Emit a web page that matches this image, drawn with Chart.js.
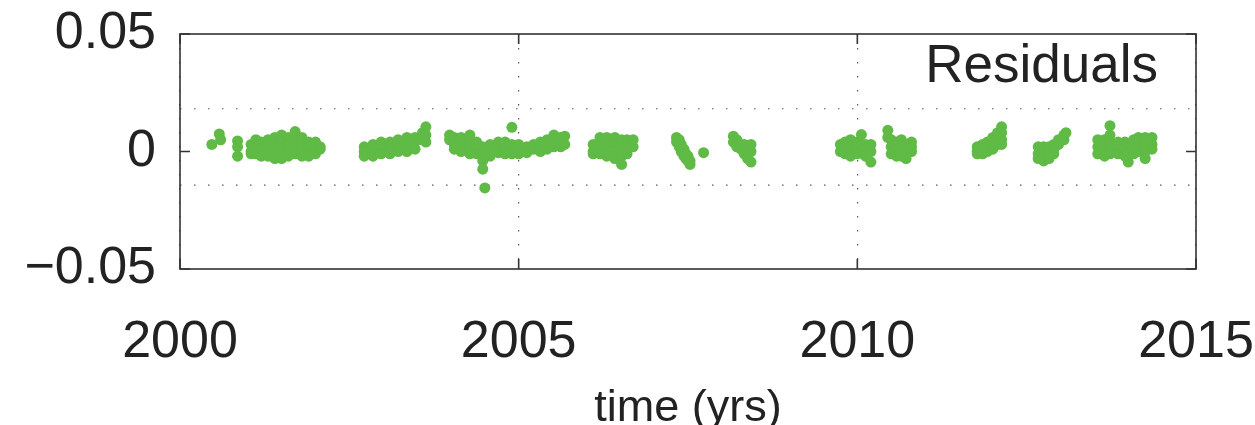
<!DOCTYPE html>
<html lang="en">
<head>
    <meta charset="UTF-8">
    <title>Residuals</title>
    <script src="https://cdn.jsdelivr.net/npm/chart.js"></script>
    <style>
        html, body { margin: 0; padding: 0; background: #fff; }
        .chart-container { position: relative; width: 1255px; height: 425px; }
    </style>
</head>
<body>
    <div class="chart-container">
        <canvas id="residualsChart"></canvas>
    </div>

    <script>
    // Data
    const seriesName = 'Residuals';
    const xTitle = 'time (yrs)';
    const xTickValues = [2000, 2005, 2010, 2015];
    const yTickValues = [-0.05, 0, 0.05];
    const yTickLabels = ['\u22120.05', '0', '0.05'];
    const upperBand = 0.0182;
    const lowerBand = -0.0143;

    // sample times (yrs) and the residuals seen at each of them
    const colTimes = [
        2000.47, 2000.58, 2000.60, 2000.85,
        2001.05, 2001.12, 2001.20, 2001.30, 2001.40, 2001.50, 2001.60, 2001.70, 2001.80, 2001.90, 2002.00, 2002.07,
        2002.72, 2002.85, 2002.97, 2003.10, 2003.22, 2003.35, 2003.47, 2003.58, 2003.63,
        2003.98, 2004.05, 2004.15, 2004.28, 2004.38, 2004.47, 2004.50, 2004.58, 2004.70, 2004.80, 2004.90,
        2005.00, 2005.12, 2005.22, 2005.32, 2005.42, 2005.52, 2005.62, 2005.68,
        2006.10, 2006.20, 2006.30, 2006.42, 2006.52, 2006.60, 2006.69,
        2007.33, 2007.37, 2007.40, 2007.44, 2007.47, 2007.50, 2007.53, 2007.73,
        2008.17, 2008.22, 2008.28, 2008.33, 2008.38, 2008.43,
        2009.75, 2009.82, 2009.90, 2010.00, 2010.06, 2010.12, 2010.20,
        2010.45, 2010.50, 2010.58, 2010.65, 2010.72, 2010.80,
        2011.77, 2011.85, 2011.92, 2012.00, 2012.07, 2012.13,
        2012.67, 2012.75, 2012.83, 2012.90, 2012.97, 2013.05, 2013.08,
        2013.55, 2013.65, 2013.73, 2013.85, 2013.95, 2014.00, 2014.08, 2014.15, 2014.25, 2014.35
    ];
    const colValues = [
        [0.003], [0.0075], [0.005], [0.0045, 0.002, -0.002],
        [0.003, 0.0, -0.001], [0.005, 0.002, -0.001], [0.004, 0.001, -0.002], [0.005, 0.002, -0.001, -0.002],
        [0.006, 0.003, 0.0, -0.003], [0.007, 0.004, 0.001, -0.003], [0.006, 0.003, 0.0, -0.002],
        [0.0085, 0.005, 0.002, -0.001], [0.006, 0.003, 0.0, -0.002], [0.004, 0.002, -0.002],
        [0.004, 0.001, -0.001], [0.002, 0.001],
        [0.002, 0.0, -0.002], [0.003, 0.0, -0.002], [0.004, 0.001, -0.001], [0.004, 0.002, -0.001],
        [0.005, 0.002, 0.0], [0.006, 0.003, 0.0], [0.006, 0.004, 0.001], [0.008, 0.005], [0.0105, 0.007, 0.004],
        [0.007, 0.005], [0.006, 0.003, 0.001], [0.006, 0.003, 0.0], [0.007, 0.004, 0.001, -0.001],
        [0.004, 0.001, -0.001], [0.002, -0.001, -0.004, -0.0075], [-0.0155], [0.003, 0.0, -0.002],
        [0.004, 0.002, -0.0005], [0.004, 0.001, -0.001], [0.0103, 0.003, 0.0, -0.001],
        [0.003, 0.001, -0.001], [0.002, 0.0, -0.0005], [0.003, 0.001], [0.004, 0.002, 0.0],
        [0.005, 0.003, 0.001], [0.007, 0.004, 0.002], [0.006, 0.004, 0.002], [0.0065, 0.003],
        [0.003, 0.0, -0.001], [0.006, 0.003, 0.0, -0.001], [0.006, 0.003, 0.0, -0.002],
        [0.006, 0.003, 0.0, -0.003], [0.005, 0.002, -0.002, -0.0055], [0.005, 0.002, -0.001], [0.005, 0.002],
        [0.006, 0.004], [0.005, 0.002], [0.003, 0.0], [0.001, -0.002], [-0.001, -0.003],
        [-0.002, -0.004], [-0.004, -0.0055], [-0.0005],
        [0.0065, 0.004], [0.005, 0.002], [0.003, 0.001], [0.003, 0.0, -0.001],
        [0.002, -0.001, -0.003], [0.003, 0.0, -0.0045],
        [0.003, 0.0], [0.004, 0.001, -0.001], [0.005, 0.002, -0.002], [0.004, 0.001, -0.001],
        [0.0072, 0.003, 0.0], [0.003, 0.001, -0.002], [0.003, 0.0, -0.0045],
        [0.009, 0.006], [0.005, 0.002, -0.001], [0.004, 0.001, -0.002], [0.005, 0.002, -0.002],
        [0.003, 0.0, -0.003], [0.004, 0.002, 0.0],
        [0.002, 0.0, -0.001], [0.003, 0.001, -0.001], [0.004, 0.002, 0.0], [0.006, 0.003, 0.001],
        [0.008, 0.006, 0.003], [0.0105, 0.008, 0.005, 0.003],
        [0.002, -0.001, -0.003], [0.002, -0.001, -0.004], [0.002, 0.0, -0.003], [0.003, 0.001, -0.001],
        [0.005, 0.003], [0.007, 0.005], [0.008],
        [0.005, 0.002, -0.001], [0.005, 0.002, -0.002], [0.011, 0.007, 0.004, 0.001, -0.001],
        [0.004, 0.001, -0.001], [0.004, 0.001, -0.002], [0.003, 0.0, -0.0045], [0.005, 0.002, -0.001],
        [0.006, 0.003, 0.0], [0.006, 0.003, 0.0, -0.003], [0.006, 0.003, 0.001]
    ];

    const points = [];
    colTimes.forEach((t, i) => colValues[i].forEach(v => points.push({ x: t, y: v })));

    const fontFamily = "'Liberation Sans', Arial, Helvetica, sans-serif";
    const textColor = '#222';
    const dotted = [1.5, 12.5];

    // box, inward ticks and the series label
    const framePlugin = {
        id: 'frame',
        afterDatasetsDraw(chart) {
            const { ctx, chartArea: a, scales: { x, y } } = chart;
            ctx.save();
            ctx.strokeStyle = '#333';
            ctx.lineWidth = 1.6;
            ctx.strokeRect(a.left, a.top, a.right - a.left, a.bottom - a.top);
            ctx.beginPath();
            yTickValues.forEach(v => {
                const py = y.getPixelForValue(v);
                ctx.moveTo(a.left, py); ctx.lineTo(a.left + 10, py);
                ctx.moveTo(a.right, py); ctx.lineTo(a.right - 10, py);
            });
            xTickValues.forEach(v => {
                const px = x.getPixelForValue(v);
                ctx.moveTo(px, a.bottom); ctx.lineTo(px, a.bottom - 10);
                ctx.moveTo(px, a.top); ctx.lineTo(px, a.top + 10);
            });
            ctx.stroke();
            ctx.fillStyle = textColor;
            ctx.font = `53px ${fontFamily}`;
            ctx.textAlign = 'right';
            ctx.textBaseline = 'alphabetic';
            ctx.fillText(seriesName, a.right - 38, a.top + 48);
            ctx.restore();
        }
    };

    const bandLine = value => ({
        type: 'line',
        data: [{ x: xTickValues[0], y: value }, { x: xTickValues[xTickValues.length - 1], y: value }],
        borderColor: '#555',
        borderWidth: 1.2,
        borderDash: dotted,
        pointRadius: 0,
        fill: false,
        order: 2
    });

    new Chart(document.getElementById('residualsChart'), {
        type: 'scatter',
        data: {
            datasets: [
                {
                    label: seriesName,
                    data: points,
                    backgroundColor: '#5fba46',
                    borderWidth: 0,
                    pointRadius: 5.5,
                    order: 1
                },
                bandLine(upperBand),
                bandLine(lowerBand)
            ]
        },
        options: {
            responsive: true,
            maintainAspectRatio: false,
            animation: false,
            layout: { padding: { top: 34, right: 59, left: 0, bottom: 0 } },
            plugins: {
                legend: { display: false },
                tooltip: { enabled: false }
            },
            scales: {
                x: {
                    type: 'linear',
                    min: 2000,
                    max: 2015,
                    afterBuildTicks: s => { s.ticks = xTickValues.map(v => ({ value: v })); },
                    afterFit: s => {
                        s.height = 156;
                        s.paddingLeft = 0;
                        s.paddingRight = 0;
                    },
                    grid: { color: '#555', lineWidth: 1.2, drawTicks: false },
                    border: { display: false, dash: dotted },
                    ticks: {
                        color: textColor,
                        font: { family: fontFamily, size: 52 },
                        padding: 42,
                        maxRotation: 0,
                        autoSkip: false,
                        callback: v => String(v)
                    },
                    title: {
                        display: true,
                        text: xTitle,
                        color: textColor,
                        font: { family: fontFamily, size: 45, lineHeight: 0.75 },
                        padding: { top: 0, bottom: 0 }
                    }
                },
                y: {
                    min: -0.05,
                    max: 0.05,
                    afterBuildTicks: s => { s.ticks = yTickValues.map(v => ({ value: v })); },
                    afterFit: s => {
                        s.width = 180;
                        s.paddingTop = 0;
                        s.paddingBottom = 0;
                    },
                    grid: { display: false, drawTicks: false },
                    border: { display: false },
                    ticks: {
                        color: textColor,
                        font: { family: fontFamily, size: 52 },
                        padding: 24,
                        callback: v => yTickLabels[yTickValues.indexOf(v)]
                    }
                }
            }
        },
        plugins: [framePlugin]
    });
    </script>
</body>
</html>
